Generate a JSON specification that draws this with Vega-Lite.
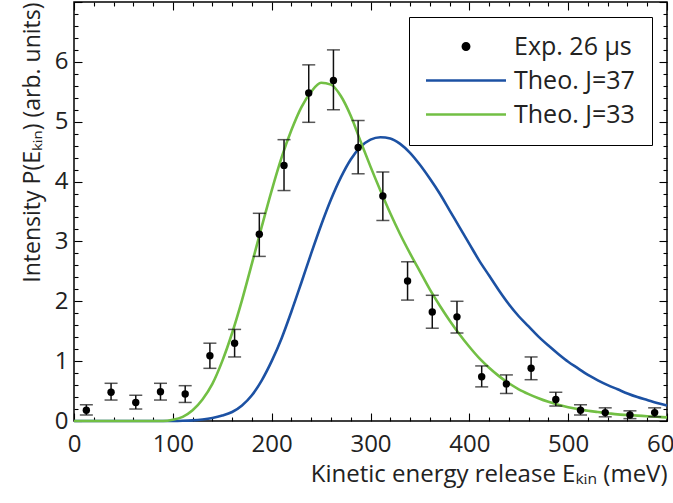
{
  "$schema": "https://vega.github.io/schema/vega-lite/v6.json",
  "width": 593,
  "height": 419,
  "autosize": {"type": "none"},
  "padding": {"left": 74, "top": 2, "right": 6, "bottom": 82},
  "background": "white",
  "config": {
    "font": "Open Sans",
    "view": {"stroke": "black", "strokeWidth": 1.5},
    "axis": {"domain": false, "grid": false, "offset": 0, "minExtent": 0, "tickColor": "black", "tickWidth": 1.1, "labelColor": "#222", "titleColor": "#222", "labelOverlap": false, "labelFlush": false, "labelBound": false, "titleFontWeight": "normal"}
  },
  "datasets": {
    "exp": [
      {"E": 12.5, "I": 0.18, "lo": 0.1, "hi": 0.27, "series": "Exp. 26 μs"},
      {"E": 37.5, "I": 0.48, "lo": 0.35, "hi": 0.63, "series": "Exp. 26 μs"},
      {"E": 62.5, "I": 0.31, "lo": 0.2, "hi": 0.43, "series": "Exp. 26 μs"},
      {"E": 87.5, "I": 0.49, "lo": 0.35, "hi": 0.63, "series": "Exp. 26 μs"},
      {"E": 112.5, "I": 0.45, "lo": 0.31, "hi": 0.59, "series": "Exp. 26 μs"},
      {"E": 137.5, "I": 1.09, "lo": 0.88, "hi": 1.3, "series": "Exp. 26 μs"},
      {"E": 162.5, "I": 1.3, "lo": 1.07, "hi": 1.53, "series": "Exp. 26 μs"},
      {"E": 187.5, "I": 3.12, "lo": 2.75, "hi": 3.47, "series": "Exp. 26 μs"},
      {"E": 212.5, "I": 4.27, "lo": 3.85, "hi": 4.7, "series": "Exp. 26 μs"},
      {"E": 237.5, "I": 5.48, "lo": 4.99, "hi": 5.95, "series": "Exp. 26 μs"},
      {"E": 262.5, "I": 5.69, "lo": 5.2, "hi": 6.2, "series": "Exp. 26 μs"},
      {"E": 287.5, "I": 4.57, "lo": 4.13, "hi": 5.02, "series": "Exp. 26 μs"},
      {"E": 312.5, "I": 3.76, "lo": 3.35, "hi": 4.16, "series": "Exp. 26 μs"},
      {"E": 337.5, "I": 2.34, "lo": 2.02, "hi": 2.66, "series": "Exp. 26 μs"},
      {"E": 362.5, "I": 1.82, "lo": 1.55, "hi": 2.1, "series": "Exp. 26 μs"},
      {"E": 387.5, "I": 1.74, "lo": 1.47, "hi": 2.0, "series": "Exp. 26 μs"},
      {"E": 412.5, "I": 0.74, "lo": 0.57, "hi": 0.92, "series": "Exp. 26 μs"},
      {"E": 437.5, "I": 0.62, "lo": 0.46, "hi": 0.77, "series": "Exp. 26 μs"},
      {"E": 462.5, "I": 0.88, "lo": 0.69, "hi": 1.07, "series": "Exp. 26 μs"},
      {"E": 487.5, "I": 0.36, "lo": 0.25, "hi": 0.48, "series": "Exp. 26 μs"},
      {"E": 512.5, "I": 0.18, "lo": 0.1, "hi": 0.27, "series": "Exp. 26 μs"},
      {"E": 537.5, "I": 0.14, "lo": 0.07, "hi": 0.22, "series": "Exp. 26 μs"},
      {"E": 562.5, "I": 0.1, "lo": 0.04, "hi": 0.17, "series": "Exp. 26 μs"},
      {"E": 587.5, "I": 0.14, "lo": 0.07, "hi": 0.22, "series": "Exp. 26 μs"}
    ],
    "theo": [
      {"E": 0, "I": 0, "series": "Theo. J=37"},
      {"E": 50, "I": 0, "series": "Theo. J=37"},
      {"E": 100, "I": 0, "series": "Theo. J=37"},
      {"E": 110, "I": 0.003, "series": "Theo. J=37"},
      {"E": 120, "I": 0.01, "series": "Theo. J=37"},
      {"E": 130, "I": 0.025, "series": "Theo. J=37"},
      {"E": 140, "I": 0.05, "series": "Theo. J=37"},
      {"E": 150, "I": 0.09, "series": "Theo. J=37"},
      {"E": 160, "I": 0.15, "series": "Theo. J=37"},
      {"E": 170, "I": 0.26, "series": "Theo. J=37"},
      {"E": 180, "I": 0.43, "series": "Theo. J=37"},
      {"E": 190, "I": 0.68, "series": "Theo. J=37"},
      {"E": 200, "I": 1.0, "series": "Theo. J=37"},
      {"E": 210, "I": 1.38, "series": "Theo. J=37"},
      {"E": 220, "I": 1.83, "series": "Theo. J=37"},
      {"E": 230, "I": 2.31, "series": "Theo. J=37"},
      {"E": 240, "I": 2.8, "series": "Theo. J=37"},
      {"E": 250, "I": 3.27, "series": "Theo. J=37"},
      {"E": 260, "I": 3.7, "series": "Theo. J=37"},
      {"E": 270, "I": 4.07, "series": "Theo. J=37"},
      {"E": 280, "I": 4.37, "series": "Theo. J=37"},
      {"E": 290, "I": 4.58, "series": "Theo. J=37"},
      {"E": 300, "I": 4.7, "series": "Theo. J=37"},
      {"E": 310, "I": 4.74, "series": "Theo. J=37"},
      {"E": 320, "I": 4.72, "series": "Theo. J=37"},
      {"E": 330, "I": 4.63, "series": "Theo. J=37"},
      {"E": 340, "I": 4.48, "series": "Theo. J=37"},
      {"E": 350, "I": 4.28, "series": "Theo. J=37"},
      {"E": 360, "I": 4.05, "series": "Theo. J=37"},
      {"E": 370, "I": 3.8, "series": "Theo. J=37"},
      {"E": 380, "I": 3.52, "series": "Theo. J=37"},
      {"E": 390, "I": 3.24, "series": "Theo. J=37"},
      {"E": 400, "I": 2.96, "series": "Theo. J=37"},
      {"E": 410, "I": 2.68, "series": "Theo. J=37"},
      {"E": 420, "I": 2.43, "series": "Theo. J=37"},
      {"E": 430, "I": 2.18, "series": "Theo. J=37"},
      {"E": 440, "I": 1.95, "series": "Theo. J=37"},
      {"E": 450, "I": 1.75, "series": "Theo. J=37"},
      {"E": 460, "I": 1.58, "series": "Theo. J=37"},
      {"E": 470, "I": 1.41, "series": "Theo. J=37"},
      {"E": 480, "I": 1.26, "series": "Theo. J=37"},
      {"E": 490, "I": 1.12, "series": "Theo. J=37"},
      {"E": 500, "I": 0.99, "series": "Theo. J=37"},
      {"E": 510, "I": 0.88, "series": "Theo. J=37"},
      {"E": 520, "I": 0.77, "series": "Theo. J=37"},
      {"E": 530, "I": 0.68, "series": "Theo. J=37"},
      {"E": 540, "I": 0.6, "series": "Theo. J=37"},
      {"E": 550, "I": 0.53, "series": "Theo. J=37"},
      {"E": 560, "I": 0.46, "series": "Theo. J=37"},
      {"E": 570, "I": 0.4, "series": "Theo. J=37"},
      {"E": 580, "I": 0.35, "series": "Theo. J=37"},
      {"E": 590, "I": 0.3, "series": "Theo. J=37"},
      {"E": 600, "I": 0.26, "series": "Theo. J=37"},
      {"E": 0, "I": 0, "series": "Theo. J=33"},
      {"E": 50, "I": 0, "series": "Theo. J=33"},
      {"E": 90, "I": 0, "series": "Theo. J=33"},
      {"E": 100, "I": 0.02, "series": "Theo. J=33"},
      {"E": 110, "I": 0.07, "series": "Theo. J=33"},
      {"E": 120, "I": 0.18, "series": "Theo. J=33"},
      {"E": 130, "I": 0.36, "series": "Theo. J=33"},
      {"E": 140, "I": 0.62, "series": "Theo. J=33"},
      {"E": 150, "I": 1.0, "series": "Theo. J=33"},
      {"E": 160, "I": 1.47, "series": "Theo. J=33"},
      {"E": 170, "I": 2.02, "series": "Theo. J=33"},
      {"E": 180, "I": 2.63, "series": "Theo. J=33"},
      {"E": 190, "I": 3.25, "series": "Theo. J=33"},
      {"E": 200, "I": 3.85, "series": "Theo. J=33"},
      {"E": 210, "I": 4.4, "series": "Theo. J=33"},
      {"E": 220, "I": 4.86, "series": "Theo. J=33"},
      {"E": 230, "I": 5.24, "series": "Theo. J=33"},
      {"E": 240, "I": 5.5, "series": "Theo. J=33"},
      {"E": 250, "I": 5.65, "series": "Theo. J=33"},
      {"E": 260, "I": 5.62, "series": "Theo. J=33"},
      {"E": 270, "I": 5.43, "series": "Theo. J=33"},
      {"E": 280, "I": 5.1, "series": "Theo. J=33"},
      {"E": 290, "I": 4.67, "series": "Theo. J=33"},
      {"E": 300, "I": 4.25, "series": "Theo. J=33"},
      {"E": 310, "I": 3.85, "series": "Theo. J=33"},
      {"E": 320, "I": 3.47, "series": "Theo. J=33"},
      {"E": 330, "I": 3.12, "series": "Theo. J=33"},
      {"E": 340, "I": 2.8, "series": "Theo. J=33"},
      {"E": 350, "I": 2.5, "series": "Theo. J=33"},
      {"E": 360, "I": 2.2, "series": "Theo. J=33"},
      {"E": 370, "I": 1.93, "series": "Theo. J=33"},
      {"E": 380, "I": 1.68, "series": "Theo. J=33"},
      {"E": 390, "I": 1.45, "series": "Theo. J=33"},
      {"E": 400, "I": 1.24, "series": "Theo. J=33"},
      {"E": 410, "I": 1.05, "series": "Theo. J=33"},
      {"E": 420, "I": 0.89, "series": "Theo. J=33"},
      {"E": 430, "I": 0.75, "series": "Theo. J=33"},
      {"E": 440, "I": 0.63, "series": "Theo. J=33"},
      {"E": 450, "I": 0.53, "series": "Theo. J=33"},
      {"E": 460, "I": 0.45, "series": "Theo. J=33"},
      {"E": 470, "I": 0.38, "series": "Theo. J=33"},
      {"E": 480, "I": 0.32, "series": "Theo. J=33"},
      {"E": 490, "I": 0.27, "series": "Theo. J=33"},
      {"E": 500, "I": 0.23, "series": "Theo. J=33"},
      {"E": 510, "I": 0.2, "series": "Theo. J=33"},
      {"E": 520, "I": 0.17, "series": "Theo. J=33"},
      {"E": 530, "I": 0.15, "series": "Theo. J=33"},
      {"E": 540, "I": 0.13, "series": "Theo. J=33"},
      {"E": 550, "I": 0.11, "series": "Theo. J=33"},
      {"E": 560, "I": 0.1, "series": "Theo. J=33"},
      {"E": 570, "I": 0.09, "series": "Theo. J=33"},
      {"E": 580, "I": 0.08, "series": "Theo. J=33"},
      {"E": 590, "I": 0.07, "series": "Theo. J=33"},
      {"E": 600, "I": 0.06, "series": "Theo. J=33"}
    ]
  },
  "resolve": {"axis": {"x": "independent", "y": "independent"}},
  "layer": [
    {
      "data": {"name": "theo"},
      "mark": {"type": "line", "strokeWidth": 2.6, "interpolate": "monotone"},
      "encoding": {
        "x": {"field": "E", "type": "quantitative", "scale": {"domain": [0, 600], "nice": false, "zero": false},
          "axis": {"orient": "bottom", "values": [20,40,60,80,120,140,160,180,220,240,260,280,320,340,360,380,420,440,460,480,520,540,560,580], "tickSize": -4, "labels": false, "title": null}},
        "y": {"field": "I", "type": "quantitative", "scale": {"domain": [0, 7], "nice": false},
          "axis": {"orient": "left", "values": [0.2,0.4,0.6,0.8,1.2,1.4,1.6,1.8,2.2,2.4,2.6,2.8,3.2,3.4,3.6,3.8,4.2,4.4,4.6,4.8,5.2,5.4,5.6,5.8,6.2,6.4,6.6,6.8], "tickSize": -4, "labels": false, "title": null}},
        "color": {
          "field": "series", "type": "nominal",
          "scale": {"domain": ["Exp. 26 μs", "Theo. J=37", "Theo. J=33"], "range": ["black", "#1c51a3", "#72bf44"]},
          "legend": {"title": null, "orient": "top-right", "offset": 15, "strokeColor": "black", "fillColor": "white", "padding": 17, "labelFontSize": 25, "labelColor": "#222", "labelOffset": 63, "rowPadding": 8, "symbolStrokeWidth": 2.6, "labelLimit": 300,
            "encode": {"symbols": {"update": {
              "shape": {"signal": "datum.value === 'Exp. 26 μs' ? 'circle' : 'M-4,0H4'"},
              "size": {"signal": "datum.value === 'Exp. 26 μs' ? 40 : 400"},
              "x": {"value": 40},
              "fill": {"signal": "datum.value === 'Exp. 26 μs' ? '#111' : 'transparent'"},
              "stroke": {"signal": "datum.value === 'Exp. 26 μs' ? 'transparent' : (datum.value === 'Theo. J=37' ? '#1c51a3' : '#72bf44')"},
              "strokeWidth": {"value": 2.6},
              "opacity": {"value": 1}
            }}}
          }
        }
      }
    },
    {
      "data": {"name": "exp"},
      "mark": {"type": "errorbar", "color": "#111", "thickness": 1.5, "ticks": {"size": 13, "thickness": 1.5}},
      "encoding": {
        "x": {"field": "E", "type": "quantitative", "axis": null},
        "y": {"field": "lo", "type": "quantitative", "axis": null},
        "y2": {"field": "hi"}
      }
    },
    {
      "data": {"name": "exp"},
      "mark": {"type": "point", "filled": true, "size": 55, "opacity": 1},
      "encoding": {
        "x": {"field": "E", "type": "quantitative",
          "axis": {"orient": "bottom", "values": [0,100,200,300,400,500,600], "tickSize": -8,
            "labelFontSize": 24, "labelPadding": 19,
            "title": "Kinetic energy release Eₖᵢₙ (meV)", "titleFontSize": 24, "titleAnchor": "end", "titlePadding": 6}},
        "y": {"field": "I", "type": "quantitative",
          "axis": {"orient": "left", "values": [0,1,2,3,4,5,6,7], "format": "d", "tickSize": -8,
            "labelExpr": "datum.value < 7 ? datum.label : ''",
            "labelFontSize": 24, "labelPadding": 14,
            "title": "Intensity P(Eₖᵢₙ) (arb. units)", "titleFontSize": 23, "titleAnchor": "end", "titlePadding": 10}},
        "color": {"field": "series", "type": "nominal", "legend": {"title": null}}
      }
    },
    {
      "data": {"name": "exp"},
      "mark": {"type": "point", "opacity": 0},
      "encoding": {
        "x": {"field": "E", "type": "quantitative",
          "axis": {"orient": "top", "values": [0,100,200,300,400,500,600], "tickSize": -8, "labels": false, "title": null}},
        "y": {"field": "I", "type": "quantitative",
          "axis": {"orient": "right", "values": [0,1,2,3,4,5,6,7], "tickSize": -8, "labels": false, "title": null}}
      }
    },
    {
      "data": {"name": "exp"},
      "mark": {"type": "point", "opacity": 0},
      "encoding": {
        "x": {"field": "E", "type": "quantitative",
          "axis": {"orient": "top", "values": [20,40,60,80,120,140,160,180,220,240,260,280,320,340,360,380,420,440,460,480,520,540,560,580], "tickSize": -4, "labels": false, "title": null}},
        "y": {"field": "I", "type": "quantitative",
          "axis": {"orient": "right", "values": [0.2,0.4,0.6,0.8,1.2,1.4,1.6,1.8,2.2,2.4,2.6,2.8,3.2,3.4,3.6,3.8,4.2,4.4,4.6,4.8,5.2,5.4,5.6,5.8,6.2,6.4,6.6,6.8], "tickSize": -4, "labels": false, "title": null}}
      }
    }
  ]
}
